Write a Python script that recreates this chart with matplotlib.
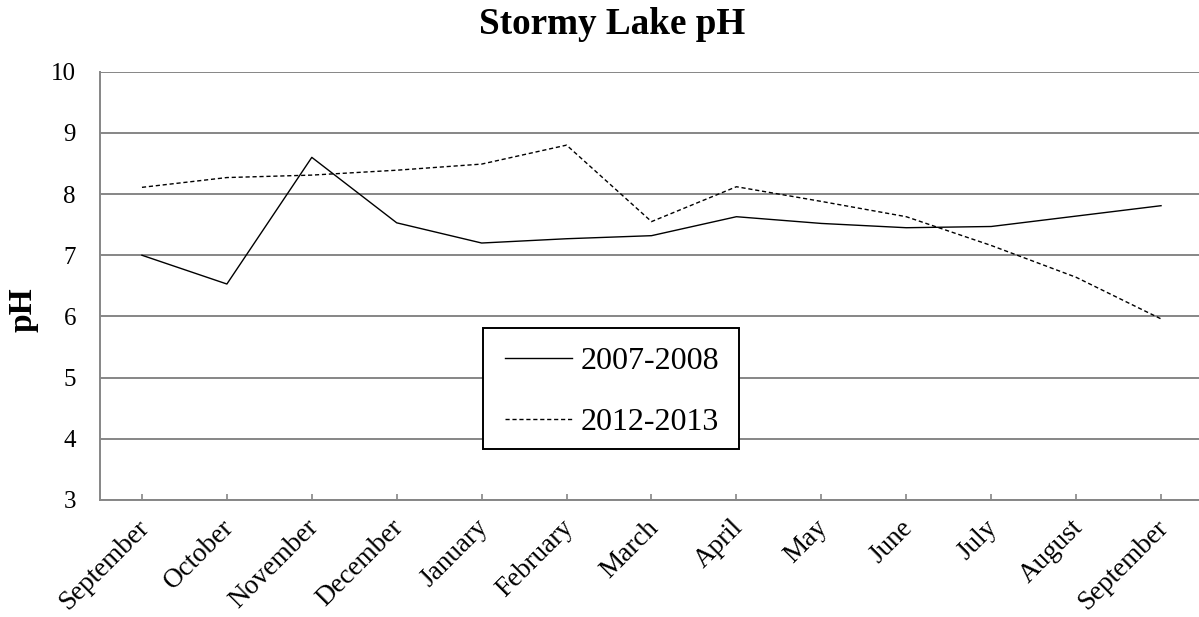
import matplotlib
matplotlib.use("Agg")
import matplotlib.pyplot as plt
from matplotlib.patches import Rectangle
from matplotlib.transforms import ScaledTranslation

plt.rcParams["font.family"] = ["Liberation Serif", "DejaVu Serif"]

months = ["September", "October", "November", "December", "January", "February",
          "March", "April", "May", "June", "July", "August", "September"]
ph_2007_2008 = [7.00, 6.53, 8.60, 7.53, 7.20, 7.27, 7.32, 7.63, 7.52, 7.45, 7.47, 7.64, 7.81]
ph_2012_2013 = [8.11, 8.27, 8.31, 8.39, 8.49, 8.80, 7.55, 8.12, 7.88, 7.63, 7.16, 6.64, 5.96]
y_ticks = [3, 4, 5, 6, 7, 8, 9, 10]

W, H = 1199, 617
fig = plt.figure(figsize=(W / 100, H / 100), dpi=100)
left, right, top, bottom = 99.5, 1203.5, 71.7, 500.0
ax = fig.add_axes([left / W, 1 - bottom / H, (right - left) / W, (bottom - top) / H])


def to_axes(px, py):
    return (px - left) / (right - left), (bottom - py) / (bottom - top)


x = list(range(len(months)))
ax.plot(x, ph_2007_2008, color="black", lw=1.0, label="2007-2008")
ax.plot(x, ph_2012_2013, color="black", lw=1.0, linestyle=(0, (3, 2)), label="2012-2013")

ax.set_xlim(-0.5, len(months) - 0.5)
ax.set_ylim(3, 10)
ax.set_yticks(y_ticks)
ax.set_yticklabels([str(v) for v in y_ticks], fontsize=18)
ax.tick_params(axis="y", length=0, pad=17)

ax.set_xticks(x)
ax.set_xticklabels(months, fontsize=19.5, rotation=45, ha="right", rotation_mode="anchor")
ax.tick_params(axis="x", direction="in", length=4, width=1.2, color="#868686", pad=13)
shift = ScaledTranslation(-6 / 100, 3 / 100, fig.dpi_scale_trans)
for lbl in ax.get_xticklabels():
    lbl.set_transform(lbl.get_transform() + shift)

ax.grid(axis="y", color="#868686", lw=1.4)
ax.set_axisbelow(True)
for side in ["top", "right"]:
    ax.spines[side].set_visible(False)
for side in ["left", "bottom"]:
    ax.spines[side].set_color("#868686")
    ax.spines[side].set_linewidth(1.4)

# legend box drawn as a plain rectangle, entries placed inside it
bx0, by0 = to_axes(483, 449)
bx1, by1 = to_axes(739, 328)
ax.add_patch(Rectangle((bx0, by0), bx1 - bx0, by1 - by0, transform=ax.transAxes,
                       facecolor="white", edgecolor="black", lw=1.4, zorder=4))
ax_anchor = to_axes(491, 332)
leg = ax.legend(loc="upper left", bbox_to_anchor=ax_anchor, fontsize=23,
                frameon=False, handlelength=2.1, handletextpad=0.25,
                labelspacing=1.01, borderpad=0.45, borderaxespad=0)
leg.set_zorder(5)

fig.text(612 / W, 1 - 34 / H, "Stormy Lake pH", fontsize=26.7, fontweight="bold",
         ha="center", va="baseline")
fig.text(23 / W, 1 - 310 / H, "pH", fontsize=24, fontweight="bold", rotation=90,
         ha="center", va="center")

fig.savefig("out.png", dpi=100)
